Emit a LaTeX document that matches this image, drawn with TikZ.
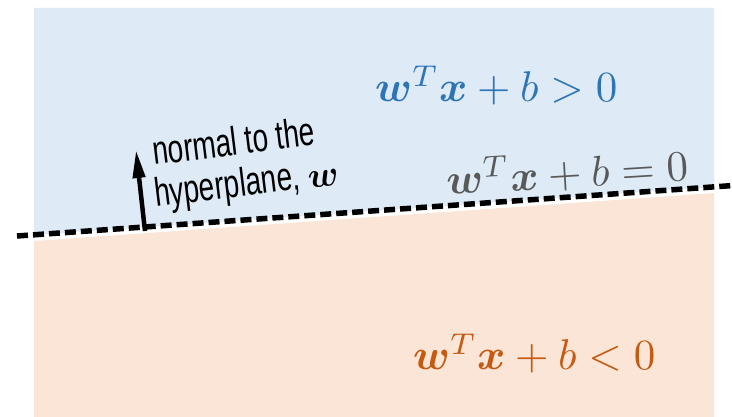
\documentclass[tikz,border=0pt]{standalone}
\usepackage{amsmath}
\usepackage{fontspec}
\newfontfamily\narrowfont[FakeStretch=0.70]{Liberation Sans}
\usetikzlibrary{arrows.meta}
\definecolor{bluebg}{HTML}{DEEBF7}
\definecolor{orangebg}{HTML}{FBE5D6}
\definecolor{bluetxt}{HTML}{2E75B6}
\definecolor{orangetxt}{HTML}{C55A11}
\definecolor{graytxt}{HTML}{595959}
\newcommand{\eqbig}[1]{\scalebox{4.3}{$#1$}}
\tikzset{
  eqn/.style={inner sep=0pt, anchor=base west},
  lbl/.style={inner sep=0pt, anchor=base west, rotate=7, font=\narrowfont\fontsize{40}{46}\selectfont},
  hyper/.style={line width=5.5pt, dash pattern=on 11pt off 5pt},
}
\begin{document}
\begin{tikzpicture}[x=1pt,y=-1pt]
\useasboundingbox (0,0) rectangle (732,417);
% regions
\fill[bluebg] (34,8) -- (714,8) -- (714,187) -- (34,235) -- cycle;
\fill[orangebg] (34,241) -- (714,193) -- (714,417) -- (34,417) -- cycle;
% hyperplane
\coordinate (hl) at (17,236);
\coordinate (hr) at (732,185.6);
\draw[hyper] (hl) -- (hr);
% normal arrow
\coordinate (nb) at (145,231);
\coordinate (nt) at (136,150);
\draw[line width=4.5pt, -{Triangle[length=28pt,width=12pt]}] (nb) -- (nt);
% labels
\node[lbl] (l1) at (154,165) {normal to the};
\node[lbl] (l2) at (156,207) {hyperplane, \scalebox{3.6}{\normalsize$\boldsymbol{w}$}};
\node[eqn, text=bluetxt] (pos) at (375,102) {\eqbig{\boldsymbol{w}^T\boldsymbol{x}+b>0}};
\node[eqn, text=graytxt, rotate=3.5] (zero) at (447,195) {\eqbig{\boldsymbol{w}^T\boldsymbol{x}+b=0}};
\node[eqn, text=orangetxt] (neg) at (413,370) {\eqbig{\boldsymbol{w}^T\boldsymbol{x}+b<0}};
\end{tikzpicture}
\end{document}
